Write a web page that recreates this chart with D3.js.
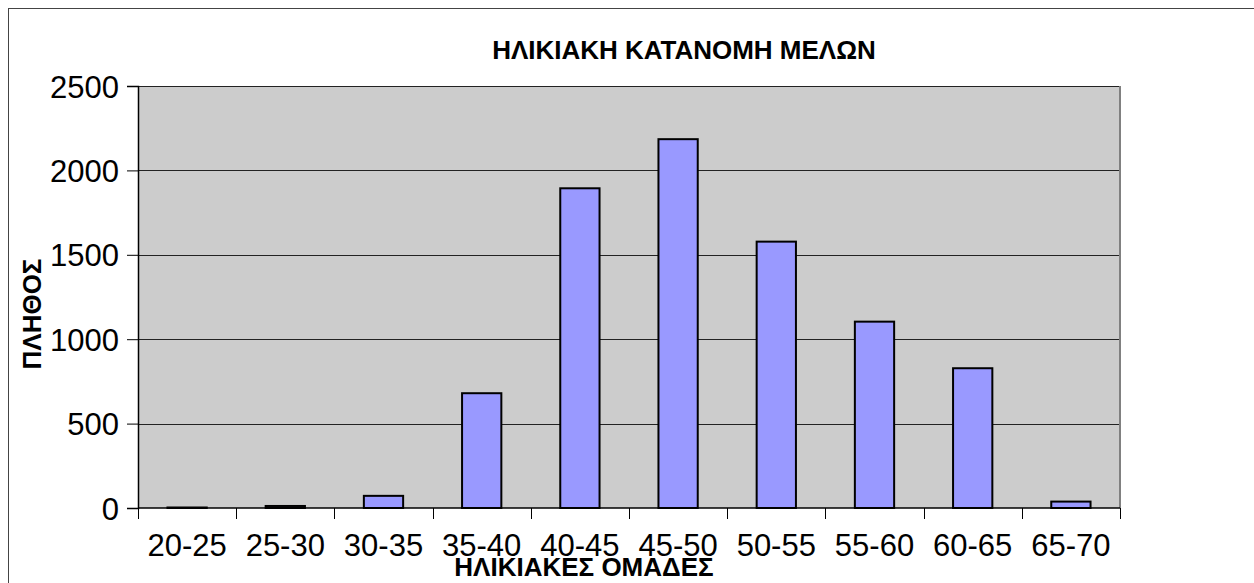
<!DOCTYPE html>
<html>
<head>
<meta charset="utf-8">
<script src="https://cdn.jsdelivr.net/npm/d3@7"></script>
<style>
  html, body { margin: 0; padding: 0; background: #fff; }
  #chart { width: 1254px; height: 583px; }
  text { font-family: "Liberation Sans", Arial, sans-serif; fill: #000; }
</style>
</head>
<body>
<div id="chart"></div>
<script>
const chartEl = document.getElementById('chart');

const width = () => chartEl.clientWidth;
const height = () => chartEl.clientHeight;

const AGE_GROUPS = ['20-25','25-30','30-35','35-40','40-45','45-50','50-55','55-60','60-65','65-70'];
const MEMBERS = [3, 12, 72, 680, 1894, 2185, 1578, 1104, 828, 38];
const Y_TICKS = [0, 500, 1000, 1500, 2000, 2500];

const TITLE = 'ΗΛΙΚΙΑΚΗ ΚΑΤΑΝΟΜΗ ΜΕΛΩΝ';
const X_TITLE = 'ΗΛΙΚΙΑΚΕΣ ΟΜΑΔΕΣ';
const Y_TITLE = 'ΠΛΗΘΟΣ';

const plot = { left: 138, top: 86, right: 1120, bottom: 508 };

function render() {
  d3.select('#chart').selectAll('svg').remove();

  const svg = d3.select('#chart')
    .append('svg')
    .attr('width', width())
    .attr('height', height());

  // outer chart frame (runs off the right / bottom edge)
  svg.append('rect')
    .attr('x', 8.5)
    .attr('y', 8.5)
    .attr('width', width() + 20)
    .attr('height', height() + 20)
    .attr('fill', '#fff')
    .attr('stroke', '#444')
    .attr('stroke-width', 1);

  const x = d3.scaleBand()
    .domain(AGE_GROUPS)
    .range([plot.left, plot.right])
    .paddingInner(0)
    .paddingOuter(0);

  const y = d3.scaleLinear()
    .domain([0, 2500])
    .range([plot.bottom, plot.top]);

  // plot area
  svg.append('rect')
    .attr('x', plot.left)
    .attr('y', plot.top)
    .attr('width', plot.right - plot.left)
    .attr('height', plot.bottom - plot.top)
    .attr('fill', '#cccccc');

  // gridlines
  svg.append('g')
    .selectAll('line')
    .data(Y_TICKS.filter(d => d > 0))
    .join('line')
    .attr('x1', plot.left)
    .attr('x2', plot.right)
    .attr('y1', d => Math.round(y(d)) + 0.5)
    .attr('y2', d => Math.round(y(d)) + 0.5)
    .attr('stroke', '#222')
    .attr('stroke-width', 1);

  // right edge of plot area
  svg.append('line')
    .attr('x1', plot.right)
    .attr('x2', plot.right)
    .attr('y1', plot.top)
    .attr('y2', plot.bottom)
    .attr('stroke', '#808080')
    .attr('stroke-width', 2);

  // bars (gap width 150%)
  const barW = x.bandwidth() / 2.5;
  svg.append('g')
    .selectAll('rect')
    .data(AGE_GROUPS.map((g, i) => ({ group: g, value: MEMBERS[i] })))
    .join('rect')
    .attr('x', d => x(d.group) + (x.bandwidth() - barW) / 2)
    .attr('y', d => y(d.value))
    .attr('width', barW)
    .attr('height', d => y(0) - y(d.value))
    .attr('fill', '#9999ff')
    .attr('stroke', '#000')
    .attr('stroke-width', 2);

  // y axis
  const yAxis = svg.append('g')
    .attr('transform', `translate(${plot.left},0)`)
    .call(d3.axisLeft(y).tickValues(Y_TICKS).tickFormat(d3.format('d')).tickSize(11).tickPadding(8));
  yAxis.select('.domain').attr('stroke', '#000').attr('stroke-width', 1.5);
  yAxis.selectAll('.tick line').attr('stroke', '#000');
  yAxis.selectAll('.tick text')
    .attr('font-size', 31)
    .attr('font-family', '"Liberation Sans", Arial, sans-serif')
    .attr('dy', '0.36em');

  // x axis
  const xTickScale = d3.scalePoint()
    .domain(d3.range(AGE_GROUPS.length + 1))
    .range([plot.left, plot.right]);

  svg.append('line')
    .attr('x1', plot.left)
    .attr('x2', plot.right)
    .attr('y1', plot.bottom)
    .attr('y2', plot.bottom)
    .attr('stroke', '#000')
    .attr('stroke-width', 1.5);

  svg.append('g')
    .selectAll('line')
    .data(xTickScale.domain())
    .join('line')
    .attr('x1', d => Math.round(xTickScale(d)) + 0.5)
    .attr('x2', d => Math.round(xTickScale(d)) + 0.5)
    .attr('y1', plot.bottom)
    .attr('y2', plot.bottom + 11)
    .attr('stroke', '#000');

  svg.append('g')
    .selectAll('text')
    .data(AGE_GROUPS)
    .join('text')
    .attr('x', d => x(d) + x.bandwidth() / 2)
    .attr('y', 556)
    .attr('text-anchor', 'middle')
    .attr('font-size', 31)
    .text(d => d);

  // titles
  svg.append('text')
    .attr('x', 684)
    .attr('y', 59)
    .attr('text-anchor', 'middle')
    .attr('font-size', 26)
    .attr('font-weight', 'bold')
    .text(TITLE);

  svg.append('text')
    .attr('x', 584)
    .attr('y', 576)
    .attr('text-anchor', 'middle')
    .attr('font-size', 26)
    .attr('font-weight', 'bold')
    .text(X_TITLE);

  svg.append('text')
    .attr('transform', 'translate(41,314) rotate(-90)')
    .attr('text-anchor', 'middle')
    .attr('font-size', 26)
    .attr('font-weight', 'bold')
    .text(Y_TITLE);
}

render();
</script>
</body>
</html>
